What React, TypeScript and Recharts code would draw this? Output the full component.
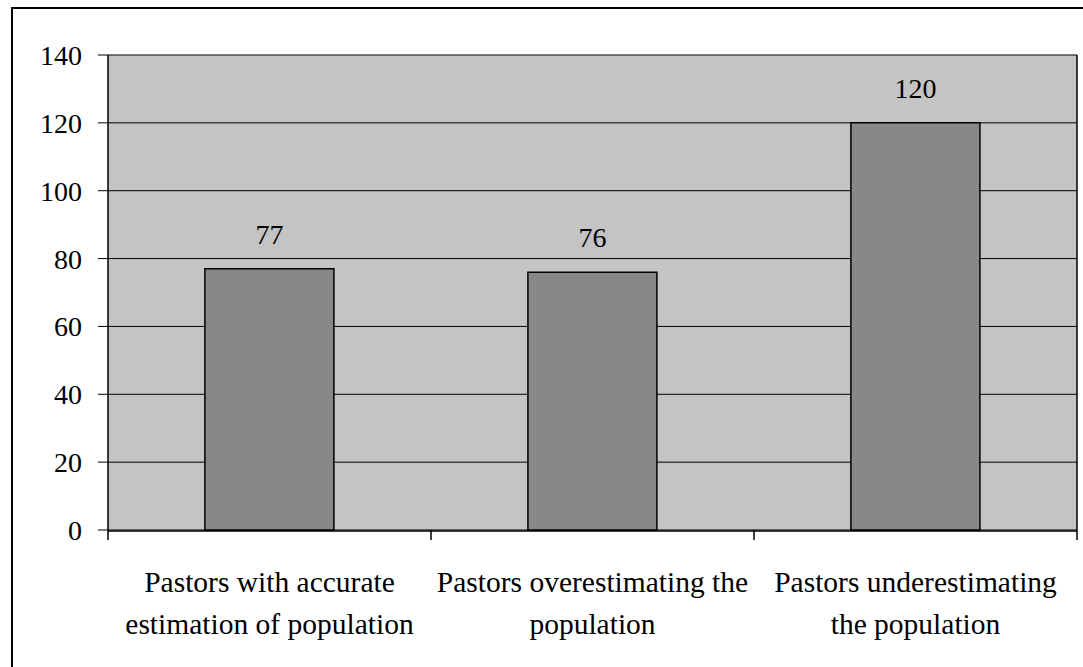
import React from 'react';
import {
  BarChart,
  Bar,
  XAxis,
  YAxis,
  CartesianGrid,
  LabelList,
  ReferenceLine,
} from 'recharts';

const categories = [
  ['Pastors with accurate', 'estimation of population'],
  ['Pastors overestimating the', 'population'],
  ['Pastors underestimating', 'the population'],
];
const pastorCounts = [77, 76, 120];
const yTicks = [0, 20, 40, 60, 80, 100, 120, 140];
const boundaryTicks = [0, 1, 2, 3];

const data = categories.map((lines, i) => ({
  name: lines.join(' '),
  pos: i + 0.5,
  count: pastorCounts[i],
}));

const FONT = '"Liberation Serif", "Times New Roman", serif';

const CategoryTick = (props: any) => {
  const { x, y, payload } = props;
  const lines = categories[payload.index] || [];
  return (
    <text x={x} y={y} textAnchor="middle" fontFamily={FONT} fontSize={29.5} fill="#000">
      {lines.map((l, i) => (
        <tspan key={i} x={x} dy={i === 0 ? 53 : 42}>
          {l}
        </tspan>
      ))}
    </text>
  );
};

const NoLabel = () => <g />;

export default function App() {
  return (
    <div style={{ position: 'absolute', left: 0, top: 0, width: 1083, height: 667, background: '#fff', overflow: 'hidden' }}>
      <div
        style={{
          position: 'absolute',
          left: 11,
          top: 7,
          width: 1200,
          height: 800,
          border: '2px solid #000',
        }}
      />
      <div style={{ position: 'absolute', left: 0, top: 0 }}>
        <BarChart
          width={1083}
          height={667}
          data={data}
          margin={{ top: 55, right: 6, left: 0, bottom: 0 }}
          barCategoryGap="30%"
        >
          <CartesianGrid vertical={false} stroke="#000" strokeWidth={1} fill="#c4c4c4" fillOpacity={1} />
          <XAxis
            xAxisId="a_edge"
            type="number"
            dataKey="pos"
            domain={[0, 3]}
            ticks={boundaryTicks}
            axisLine={false}
            tickLine={{ stroke: '#000', strokeWidth: 1.5 }}
            tickSize={10}
            tick={<NoLabel />}
            height={1}
          />
          <XAxis
            xAxisId="b_cat"
            dataKey="name"
            axisLine={{ stroke: '#000', strokeWidth: 1.5 }}
            tickLine={false}
            tick={<CategoryTick />}
            interval={0}
            height={136}
          />
          <YAxis
            domain={[0, 140]}
            ticks={yTicks}
            width={108}
            tickSize={10}
            tickMargin={16}
            axisLine={{ stroke: '#000', strokeWidth: 1.5 }}
            tickLine={{ stroke: '#000', strokeWidth: 1 }}
            tick={{ fontFamily: FONT, fontSize: 28, fill: '#000' }}
          />
          <ReferenceLine xAxisId="a_edge" x={3} stroke="#000" strokeWidth={1.5} />
          <Bar
            xAxisId="b_cat"
            dataKey="count"
            fill="#888888"
            stroke="#000"
            strokeWidth={1.5}
            isAnimationActive={false}
          >
            <LabelList
              dataKey="count"
              position="top"
              offset={25}
              style={{ fontFamily: FONT, fontSize: 28, fill: '#000' }}
            />
          </Bar>
        </BarChart>
      </div>
    </div>
  );
}
